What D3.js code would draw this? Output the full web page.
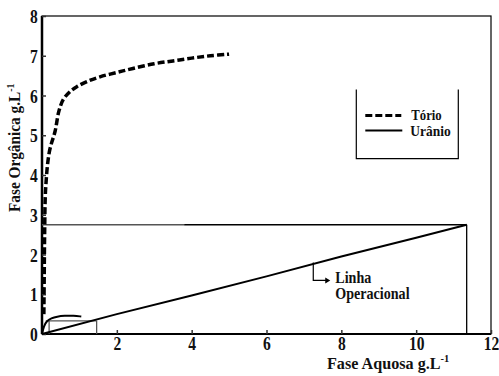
<!DOCTYPE html>
<html>
<head>
<meta charset="utf-8">
<script src="https://cdn.jsdelivr.net/npm/d3@7"></script>
<style>
  body { margin: 0; background: #fff; }
</style>
</head>
<body>
<div id="chart"></div>
<script>
// data (g/L)
const xTicks = [2, 4, 6, 8, 10, 12];
const yTicks = [0, 1, 2, 3, 4, 5, 6, 7, 8];

// thorium equilibrium curve (dashed)
const torio = [
  [0.05, 0.5], [0.06, 1.5], [0.07, 2.5], [0.1, 3.7], [0.2, 4.6], [0.35, 5.1],
  [0.45, 5.6], [0.57, 5.9], [0.75, 6.1], [0.93, 6.22], [1.2, 6.35],
  [1.55, 6.47], [2.0, 6.58], [2.43, 6.68], [3.0, 6.8], [3.5, 6.87],
  [4.0, 6.94], [4.5, 7.0], [5.0, 7.04]
];

// uranium equilibrium curve (solid, near origin)
const uranio = [
  [0, 0], [0.05, 0.2], [0.12, 0.32], [0.25, 0.4], [0.4, 0.44], [0.6, 0.46],
  [0.85, 0.46], [1.05, 0.44]
];

// operating line
const operacional = [[0, 0], [2, 0.5], [4, 0.97], [6, 1.45], [8, 1.95], [10, 2.42], [11.35, 2.75]];

// construction lines
const feedY = 2.75;
const feedX = 11.35;
const stepY = 0.33;
const stepX = [0.19, 1.46];

const FONT = "'Liberation Serif', 'Times New Roman', Times, serif";

const margin = { top: 16, right: 8, bottom: 42, left: 42 };

const svg = d3
  .select("#chart")
  .append("svg")
  .attr("width", 499)
  .attr("height", 376)
  .append("g")
  .attr("transform", `translate(${margin.left},${margin.top})`);

const x = d3.scaleLinear().domain([0, 12]).range([0, 449]);
const y = d3.scaleLinear().domain([0, 8]).range([318, 0]);

// condensed serif text (the original uses a narrow Times)
const label = function (parent, px, py, txt, size, k) {
  return parent
    .append("text")
    .attr("transform", `translate(${px},${py}) scale(${k},1)`)
    .attr("font-family", FONT)
    .attr("font-weight", "bold")
    .attr("font-size", size)
    .attr("fill", "#111")
    .text(txt);
};

// frame
svg
  .append("rect")
  .attr("x", 0)
  .attr("y", 0)
  .attr("width", x(12))
  .attr("height", y(0))
  .attr("fill", "none")
  .attr("stroke", "#000")
  .attr("stroke-width", 1.2);

// thick left and bottom axes
svg.append("line").attr("x1", 0).attr("x2", 0).attr("y1", 0).attr("y2", y(0))
  .attr("stroke", "#000").attr("stroke-width", 2.5);
svg.append("line").attr("x1", 0).attr("x2", x(12)).attr("y1", y(0)).attr("y2", y(0))
  .attr("stroke", "#000").attr("stroke-width", 2);

const xAxis = svg
  .append("g")
  .attr("transform", `translate(0, ${y(0)})`)
  .call(d3.axisBottom(x).tickValues(xTicks).tickSizeInner(-4).tickSizeOuter(0).tickPadding(3));
xAxis.select(".domain").remove();
xAxis.attr("font-family", FONT);
xAxis.selectAll("line").attr("stroke", "#333").attr("stroke-width", 1.5);
xAxis.selectAll("text").attr("font-size", 19).attr("fill", "#111")
  .attr("font-family", FONT).attr("font-weight", "bold")
  .attr("transform", "scale(0.82,1)");

const yAxis = svg
  .append("g")
  .call(d3.axisLeft(y).tickValues(yTicks).tickSizeInner(-4).tickSizeOuter(0).tickPadding(5));
yAxis.select(".domain").remove();
yAxis.attr("font-family", FONT);
yAxis.selectAll("line").attr("stroke", "#333").attr("stroke-width", 1.5);
yAxis.selectAll("text").attr("font-size", 19).attr("fill", "#111")
  .attr("font-family", FONT).attr("font-weight", "bold").attr("dy", "0.35em")
  .attr("transform", "scale(0.82,1)");

// construction lines
svg.append("line").attr("x1", x(0)).attr("x2", x(3.8)).attr("y1", y(feedY)).attr("y2", y(feedY))
  .attr("stroke", "#555").attr("stroke-width", 1.5);
svg.append("line").attr("x1", x(3.8)).attr("x2", x(feedX)).attr("y1", y(feedY)).attr("y2", y(feedY))
  .attr("stroke", "#000").attr("stroke-width", 1.5);
svg.append("line").attr("x1", x(feedX)).attr("x2", x(feedX)).attr("y1", y(feedY)).attr("y2", y(0))
  .attr("stroke", "#000").attr("stroke-width", 1.3);

svg.append("line").attr("x1", x(0.1)).attr("x2", x(stepX[1])).attr("y1", y(stepY)).attr("y2", y(stepY))
  .attr("stroke", "#555").attr("stroke-width", 1.3);
stepX.forEach((sx) => {
  svg.append("line").attr("x1", x(sx)).attr("x2", x(sx)).attr("y1", y(stepY)).attr("y2", y(0))
    .attr("stroke", "#555").attr("stroke-width", 1.3);
});

// operating line
svg.append("path").datum(operacional).attr("d", d3.line().x((d) => x(d[0])).y((d) => y(d[1])))
  .attr("fill", "none").attr("stroke", "#000").attr("stroke-width", 2);

// uranium curve
svg.append("path").datum(uranio).attr("d", d3.line().x((d) => x(d[0])).y((d) => y(d[1])).curve(d3.curveBasis))
  .attr("fill", "none").attr("stroke", "#000").attr("stroke-width", 2);

// thorium curve
svg.append("path").datum(torio).attr("d", d3.line().x((d) => x(d[0])).y((d) => y(d[1])).curve(d3.curveCatmullRom))
  .attr("fill", "none").attr("stroke", "#000").attr("stroke-width", 3.5)
  .attr("stroke-dasharray", "7,3");

// legend (open-top box)
const lg = svg.append("g").attr("transform", `translate(${x(8.4)}, ${y(6.15)})`);
lg.append("path").attr("d", "M0,0 V69 H102 V0").attr("fill", "none").attr("stroke", "#000").attr("stroke-width", 1.2);
lg.append("line").attr("x1", 9).attr("x2", 45).attr("y1", 26).attr("y2", 26)
  .attr("stroke", "#000").attr("stroke-width", 3).attr("stroke-dasharray", "7,3");
lg.append("line").attr("x1", 9).attr("x2", 46).attr("y1", 41).attr("y2", 41)
  .attr("stroke", "#000").attr("stroke-width", 2);
label(lg, 55, 30, "Tório", 15, 0.85);
label(lg, 54, 46, "Urânio", 15, 0.9);

// operating line annotation
const ax = x(7.25), ay = y(1.8);
svg.append("path").attr("d", `M${ax},${ay} V${ay + 18} H${ax + 15}`)
  .attr("fill", "none").attr("stroke", "#000").attr("stroke-width", 1.2);
svg.append("path").attr("d", `M${ax + 17},${ay + 18} l-5,-3 v6 z`).attr("fill", "#000");
label(svg, ax + 22, ay + 21, "Linha", 16, 0.88);
label(svg, ax + 22, ay + 37, "Operacional", 16, 0.88);

// axis titles
const xl = label(svg, 285, y(0) + 35, "", 17, 0.95);
xl.append("tspan").text("Fase Aquosa g.L");
xl.append("tspan").attr("dy", -7).attr("font-size", 11).text("-1");

const yl = svg.append("g").attr("transform", "rotate(-90)");
const ylt = label(yl, -196, -22, "", 17, 0.9);
ylt.append("tspan").text("Fase Orgânica g.L");
ylt.append("tspan").attr("dy", -6).attr("font-size", 11).text("-1");
</script>
</body>
</html>
